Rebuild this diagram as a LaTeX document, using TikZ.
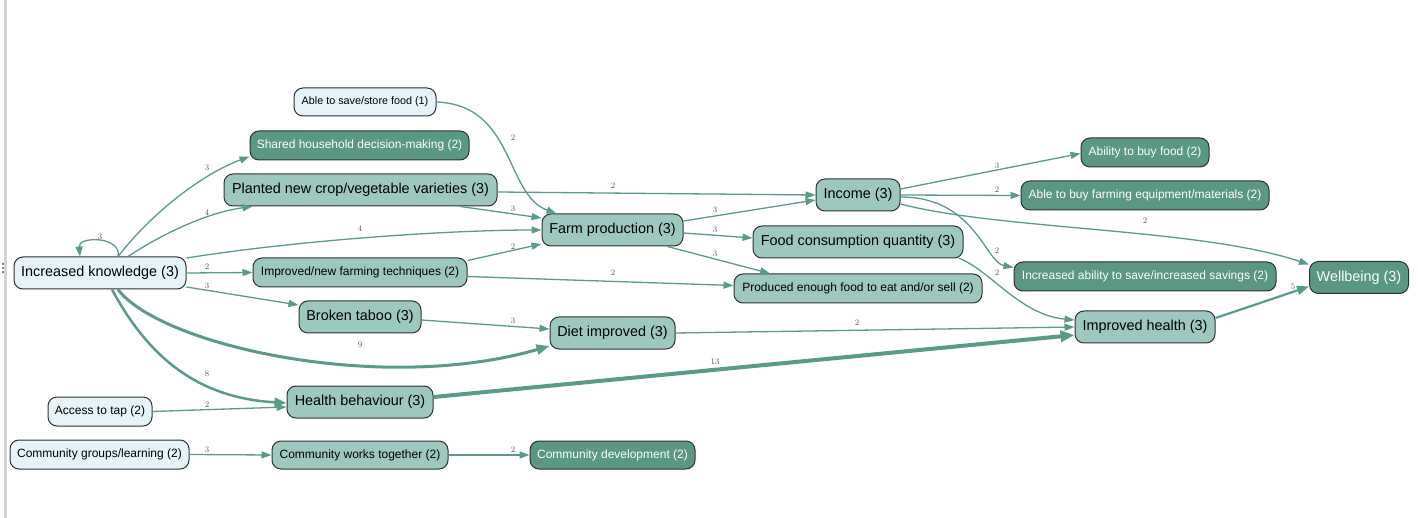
\documentclass[tikz,border=0pt]{standalone}
\usepackage{fontspec}
\setsansfont{Liberation Sans}
\usetikzlibrary{arrows.meta,calc}
\definecolor{lightfill}{HTML}{E6F4FA}
\definecolor{midfill}{HTML}{9CC8C0}
\definecolor{darkfill}{HTML}{5A9784}
\definecolor{edgecol}{HTML}{5A9A88}
\definecolor{bordercol}{HTML}{303030}
\definecolor{labelcol}{HTML}{505050}
\definecolor{barcol}{HTML}{D4D4D4}
\begin{document}
\begin{tikzpicture}[x=1pt,y=-1pt,
  nbase/.style={draw=bordercol, line width=1pt, rounded corners=9pt, inner sep=0pt, align=center},
  lightn/.style={nbase, fill=lightfill, text=black},
  midn/.style={nbase, fill=midfill, text=black},
  darkn/.style={nbase, fill=darkfill, text=white},
  big/.style={font=\sffamily\fontsize{14.4}{17}\selectfont},
  med/.style={font=\sffamily\fontsize{12}{14}\selectfont},
  sml/.style={font=\sffamily\fontsize{10.8}{13}\selectfont},
  sz/.style 2 args={minimum width=#1pt, minimum height=#2pt},
  e/.style={draw=edgecol, line width=1.3pt, -{Triangle[length=10pt,width=7pt]}},
  e5/.style={draw=edgecol, line width=2.2pt, -{Triangle[length=12pt,width=9pt]}},
  e8/.style={draw=edgecol, line width=2.5pt, -{Triangle[length=12pt,width=9pt]}},
  e9/.style={draw=edgecol, line width=3pt, -{Triangle[length=13pt,width=10pt]}},
  e13/.style={draw=edgecol, line width=4pt, -{Triangle[length=14pt,width=11pt]}},
  lbl/.style={font=\fontsize{8.5}{10}\selectfont, text=labelcol, inner sep=0pt}
]
\useasboundingbox (0,0) rectangle (1418,518);
% left bar and grip
\fill[barcol] (4,0) rectangle (7,518);
\fill[gray] (2,263.5) rectangle (4,265);
\fill[gray] (2,267.5) rectangle (4,269);
\fill[gray] (2,271.5) rectangle (4,273);

% nodes
\node[lightn,sml,sz={142}{28}] (sv) at (365,102) {Able to save/store food (1)};
\node[darkn,med,sz={219}{29}] (sh) at (359.5,145.5) {Shared household decision-making (2)};
\node[midn,big,sz={273}{32}] (pl) at (360.5,190) {Planted new crop/vegetable varieties (3)};
\node[lightn,big,sz={172}{32}] (ik) at (100,273) {Increased knowledge (3)};
\node[midn,med,sz={214}{29}] (it) at (360,272.5) {Improved/new farming techniques (2)};
\node[midn,big,sz={122}{32}] (bt) at (360,317) {Broken taboo (3)};
\node[midn,big,sz={146}{32}] (hb) at (360,402) {Health behaviour (3)};
\node[lightn,med,sz={104}{29}] (at) at (100,411.5) {Access to tap (2)};
\node[lightn,med,sz={179}{29}] (cg) at (99.5,454.5) {Community groups/learning (2)};
\node[midn,med,sz={176}{28}] (cw) at (360,455) {Community works together (2)};
\node[darkn,med,sz={165}{28}] (cd) at (612.5,455) {Community development (2)};
\node[midn,big,sz={141}{32}] (fp) at (612.5,230) {Farm production (3)};
\node[midn,big,sz={125}{32}] (di) at (612.5,333) {Diet improved (3)};
\node[midn,big,sz={84}{32}] (inc) at (858,195) {Income (3)};
\node[midn,big,sz={210}{32}] (fc) at (858,242) {Food consumption quantity (3)};
\node[midn,med,sz={248}{29}] (pe) at (858,288.5) {Produced enough food to eat and/or sell (2)};
\node[darkn,med,sz={128}{29}] (abf) at (1145,152.5) {Ability to buy food (2)};
\node[darkn,med,sz={248}{29}] (abe) at (1145,195.5) {Able to buy farming equipment/materials (2)};
\node[darkn,med,sz={262}{29}] (sav) at (1145,276.5) {Increased ability to save/increased savings (2)};
\node[midn,big,sz={140}{32}] (ih) at (1145,327) {Improved health (3)};
\node[darkn,big,sz={99}{32}] (wb) at (1359,277.5) {Wellbeing (3)};

% edges
\draw[e] ($(ik.north)+(18,0)$) .. controls (122,236) and (78,236) .. ($(ik.north)+(-20,0)$);
\draw[e] ($(ik.north)+(18,0)$) .. controls (150,215) and (200,175) .. ($(sh.west)+(0,11)$);
\draw[e] ($(ik.north)+(28,0)$) .. controls (165,232) and (210,212) .. ($(pl.south west)+(29,0)$);
\draw[e] ($(ik.east)+(0,-15)$) .. controls (300,240) and (450,230) .. (fp.west);
\draw[e] (ik.east) -- (it.west);
\draw[e] ($(ik.east)+(0,14)$) -- ($(bt.west)+(0,-12)$);
\draw[e9] ($(ik.south)+(18,0)$) .. controls (160,345) and (380,395) .. ($(di.west)+(0,13)$);
\draw[e8] ($(ik.south)+(12,0)$) .. controls (150,360) and (200,398) .. ($(hb.west)+(0,1)$);
\draw[e] (at.east) -- ($(hb.west)+(0,5)$);
\draw[e] (cg.east) -- (cw.west);
\draw[e] (cw.east) -- (cd.west);
\draw[e] (sv.east) .. controls (515,105) and (505,195) .. ($(fp.north west)+(15,0)$);
\draw[e] ($(pl.south)+(100,0)$) -- ($(fp.west)+(0,-12)$);
\draw[e] ($(pl.east)+(0,2)$) -- (inc.west);
\draw[e] ($(it.east)+(0,-12)$) -- ($(fp.west)+(0,14)$);
\draw[e] ($(it.east)+(0,4)$) -- ($(pe.west)+(0,-3)$);
\draw[e] ($(bt.east)+(0,3)$) -- ($(di.west)+(0,-4)$);
\draw[e13] ($(hb.east)+(0,-5)$) -- ($(ih.west)+(0,8)$);
\draw[e] (di.east) -- (ih.west);
\draw[e] ($(fp.east)+(0,-9)$) -- ($(inc.west)+(0,5)$);
\draw[e] ($(fp.east)+(0,3)$) -- ($(fc.west)+(0,-4)$);
\draw[e] ($(fp.south)+(55,0)$) -- ($(pe.north)+(-88,0)$);
\draw[e] ($(inc.east)+(0,-6)$) -- ($(abf.west)+(0,1)$);
\draw[e] (inc.east) -- (abe.west);
\draw[e] ($(inc.east)+(0,9)$) .. controls (1000,230) and (1200,228) .. ($(wb.west)+(0,-13)$);
\draw[e] ($(inc.east)+(0,2)$) .. controls (975,197) and (985,262) .. ($(sav.west)+(0,-9)$);
\draw[e] ($(fc.east)+(-5,16)$) .. controls (990,270) and (1020,315) .. ($(ih.west)+(0,-7)$);
\draw[e5] ($(ih.east)+(0,-9)$) -- ($(wb.west)+(0,9)$);

% edge labels
\node[lbl] (l1) at (100,237) {3};
\node[lbl] (l2) at (207,168) {3};
\node[lbl] (l3) at (207,213) {4};
\node[lbl] (l4) at (360,229) {4};
\node[lbl] (l5) at (207,267) {2};
\node[lbl] (l6) at (207,286) {3};
\node[lbl] (l7) at (360,345) {9};
\node[lbl] (l8) at (207,374) {8};
\node[lbl] (l9) at (207,405) {2};
\node[lbl] (l10) at (207,450) {3};
\node[lbl] (l11) at (513,450) {2};
\node[lbl] (l12) at (513,138) {2};
\node[lbl] (l13) at (513,209) {3};
\node[lbl] (l14) at (613,186) {2};
\node[lbl] (l15) at (513,247) {2};
\node[lbl] (l16) at (613,273) {2};
\node[lbl] (l17) at (513,321) {3};
\node[lbl] (l18) at (715,362) {13};
\node[lbl] (l19) at (857,323) {2};
\node[lbl] (l20) at (715,210) {3};
\node[lbl] (l21) at (715,230) {3};
\node[lbl] (l22) at (715,254) {3};
\node[lbl] (l23) at (997,166) {3};
\node[lbl] (l24) at (997,190) {2};
\node[lbl] (l25) at (1145,221) {2};
\node[lbl] (l26) at (997,251) {2};
\node[lbl] (l27) at (997,273) {2};
\node[lbl] (l28) at (1293,287) {5};
\end{tikzpicture}
\end{document}
